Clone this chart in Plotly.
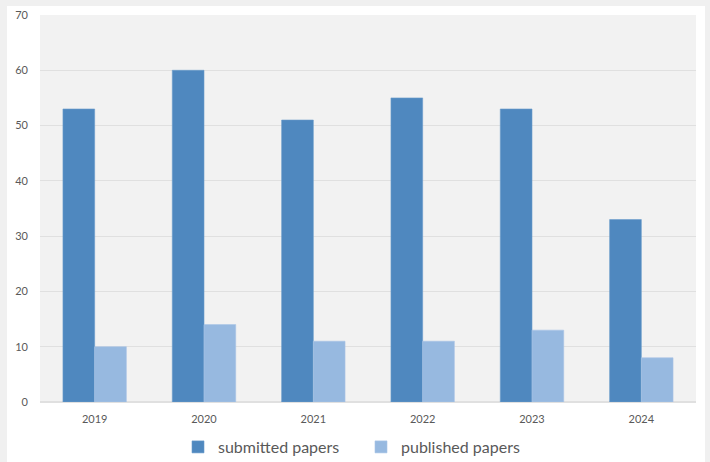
import plotly.graph_objects as go

years = ["2019", "2020", "2021", "2022", "2023", "2024"]
submitted = [53, 60, 51, 55, 53, 33]
published = [10, 14, 11, 11, 13, 8]
y_ticks = [0, 10, 20, 30, 40, 50, 60, 70]

fig = go.Figure()
fig.add_trace(go.Bar(x=years, y=submitted, name="submitted papers",
                     marker=dict(color="#4f88bf", line=dict(color="#6a9ccb", width=0.6))))
fig.add_trace(go.Bar(x=years, y=published, name="published papers",
                     marker=dict(color="#97b9e0", line=dict(color="#a9c5e6", width=0.6))))

L, R, T, B = 40, 14, 15, 60
W, H = 710, 462
pw, ph = W - L - R, H - T - B

def px(x):
    return (x - L) / pw

def py(y):
    return (H - B - y) / ph

fig.update_layout(
    width=W, height=H,
    margin=dict(l=L, r=R, t=T, b=B, autoexpand=False),
    paper_bgcolor="#f0f0f0",
    plot_bgcolor="rgba(0,0,0,0)",
    barmode="group",
    bargap=0.42,
    bargroupgap=0,
    font=dict(family="Lato, Open Sans, sans-serif", color="#595959", size=11),
    showlegend=True,
    legend=dict(orientation="h", x=px(178), xanchor="left", y=py(447), yanchor="middle",
                font=dict(size=16, color="#595959"), bgcolor="rgba(0,0,0,0)",
                itemwidth=30, entrywidth=138, entrywidthmode="pixels", traceorder="normal"),
    shapes=[
        dict(type="rect", xref="paper", yref="paper", x0=px(7), x1=px(705), y0=py(470), y1=py(6),
             fillcolor="#ffffff", line=dict(width=0), layer="below"),
        dict(type="rect", xref="paper", yref="paper", x0=0, x1=1, y0=0, y1=1,
             fillcolor="#f2f2f2", line=dict(width=0), layer="below"),
    ],
)
fig.update_xaxes(showgrid=False, showline=False, ticks="", automargin=False,
                 tickfont=dict(size=11, color="#595959"), ticklabelstandoff=9)
fig.update_yaxes(range=[0, 70], tickvals=y_ticks, showgrid=True, gridcolor="#e0e0e0", gridwidth=1,
                 zeroline=True, zerolinecolor="#e0e0e0", showline=False, ticks="", automargin=False,
                 tickfont=dict(size=11, color="#595959"), ticklabelstandoff=11)

fig.write_html("out.html", config={"displayModeBar": False},
               post_script="document.body.style.margin='0';document.body.style.background='#f0f0f0';document.body.style.overflow='hidden';")
